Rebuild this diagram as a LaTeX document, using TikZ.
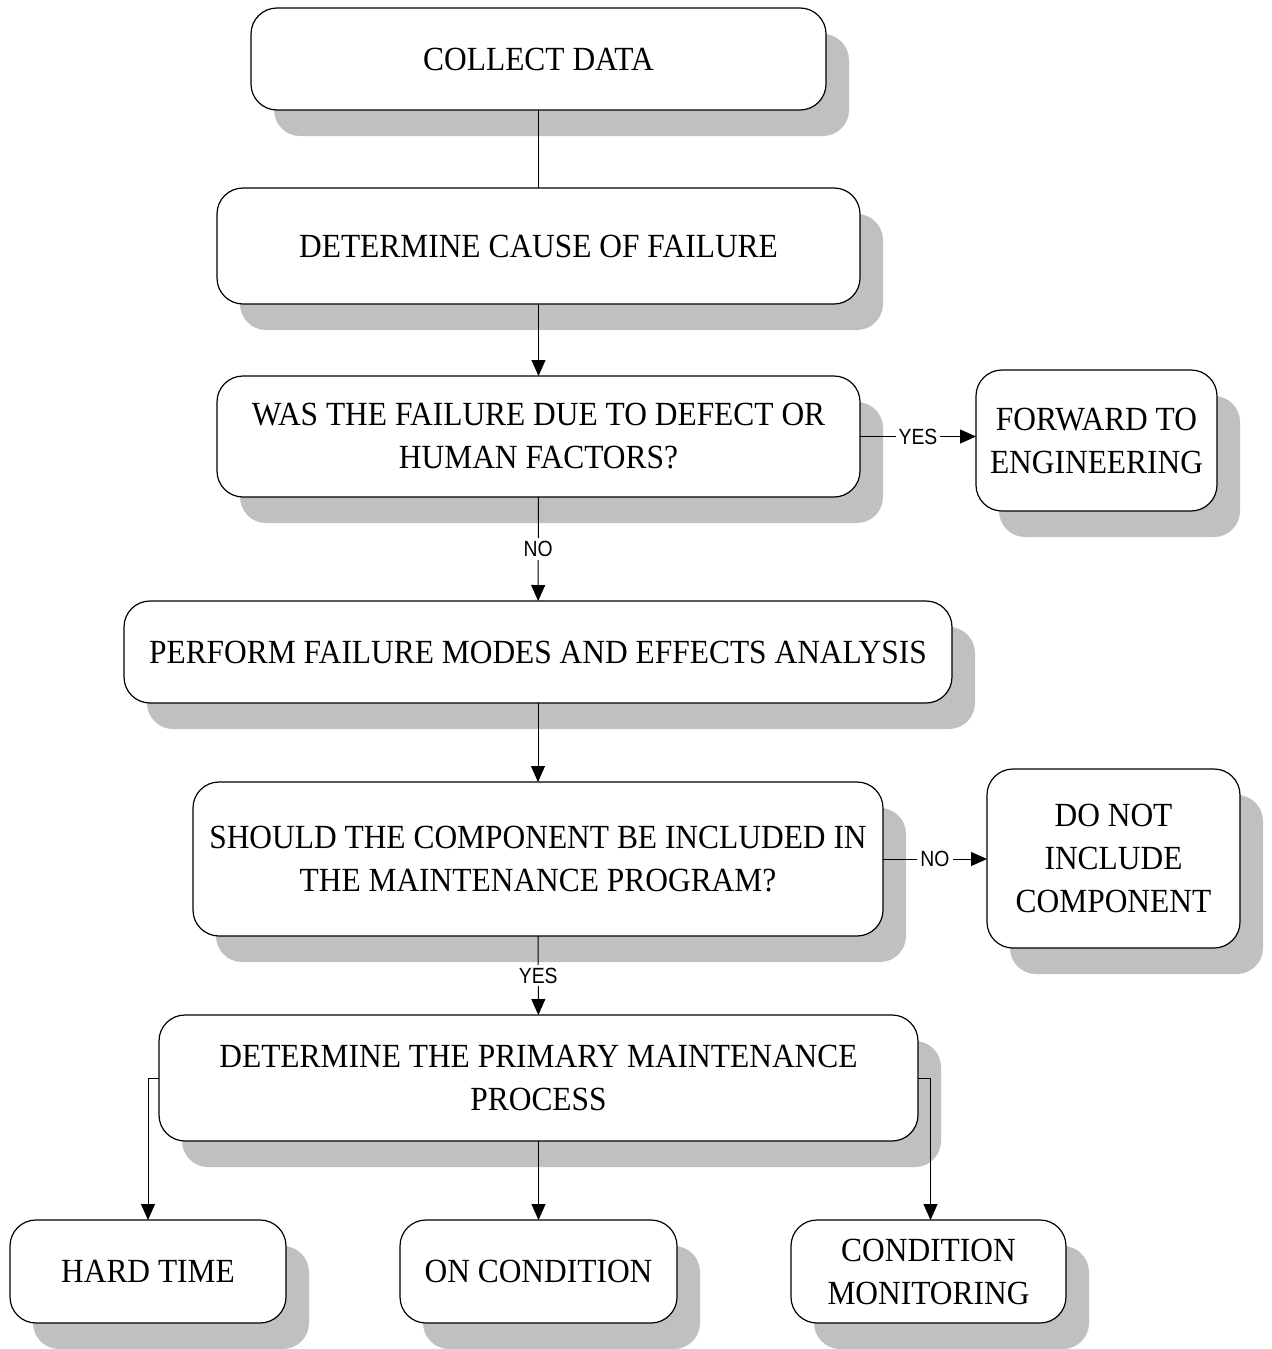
\documentclass[tikz,border=0pt]{standalone}
\usepackage{fontspec}
\setmainfont[FakeStretch=0.93]{Liberation Serif}
\newfontfamily\labelfont[FakeStretch=0.88]{Liberation Sans}
\usetikzlibrary{arrows.meta,shadows}
\definecolor{shadowgray}{HTML}{C0C0C0}
\tikzset{
  stepbox/.style={draw=black, line width=0.6pt, fill=white, rounded corners=13pt,
    align=center, inner sep=2pt, outer sep=0pt,
    font=\fontsize{16.9}{21.5}\selectfont,
    drop shadow={shadow xshift=11.5pt, shadow yshift=-13pt, fill=shadowgray, opacity=1}},
  link/.style={line width=0.5pt, draw=black},
  flow/.style={link, -{Triangle[width=7pt,length=8pt]}},
  answer/.style={fill=white, inner sep=1.5pt, font=\labelfont\fontsize{11}{12}\selectfont}
}
\begin{document}
\begin{tikzpicture}[x=0.5pt, y=-0.5pt]
\useasboundingbox (0,0) rectangle (1271,1349);

% process boxes
\node[stepbox, minimum width=287.5pt, minimum height=51pt] (collect) at (538.5,59) {COLLECT DATA};
\node[stepbox, minimum width=321.5pt, minimum height=58pt] (cause) at (538.5,246) {DETERMINE CAUSE OF FAILURE};
\node[stepbox, minimum width=321.5pt, minimum height=60.5pt] (defect) at (538.5,436.5) {WAS THE FAILURE DUE TO DEFECT OR\\HUMAN FACTORS?};
\node[stepbox, minimum width=120.5pt, minimum height=70.5pt] (forward) at (1096.5,440.5) {FORWARD TO\\ENGINEERING};
\node[stepbox, minimum width=414pt, minimum height=51pt] (fmea) at (538,652) {PERFORM FAILURE MODES AND EFFECTS ANALYSIS};
\node[stepbox, minimum width=345pt, minimum height=77pt] (should) at (538,859) {SHOULD THE COMPONENT BE INCLUDED IN\\THE MAINTENANCE PROGRAM?};
\node[stepbox, minimum width=126.5pt, minimum height=89.5pt] (donot) at (1113.5,858.5) {DO NOT\\INCLUDE\\COMPONENT};
\node[stepbox, minimum width=379.5pt, minimum height=63pt] (primary) at (538.5,1078) {DETERMINE THE PRIMARY MAINTENANCE\\PROCESS};
\node[stepbox, minimum width=138pt, minimum height=51.5pt] (hard) at (148,1271.5) {HARD TIME};
\node[stepbox, minimum width=138.5pt, minimum height=51.5pt] (oncond) at (538.5,1271.5) {ON CONDITION};
\node[stepbox, minimum width=137.5pt, minimum height=51.5pt] (condmon) at (928.5,1271.5) {CONDITION\\MONITORING};

% connectors
\draw[link] (collect) -- (cause);
\draw[flow] (cause) -- (defect);
\draw[flow] (defect) -- node[answer] {NO} (fmea);
\draw[flow] (defect.east) -- node[answer] {YES} (defect.east -| forward.west);
\draw[flow] (fmea) -- (should);
\draw[flow] (should) -- node[answer] {YES} (primary);
\draw[flow] (should.east) -- node[answer] {NO} (should.east -| donot.west);
\draw[flow] (primary.west) -| (hard.north);
\draw[flow] (primary) -- (oncond);
\draw[flow] (primary.east) -| ([xshift=1pt]condmon.north);
\end{tikzpicture}
\end{document}
